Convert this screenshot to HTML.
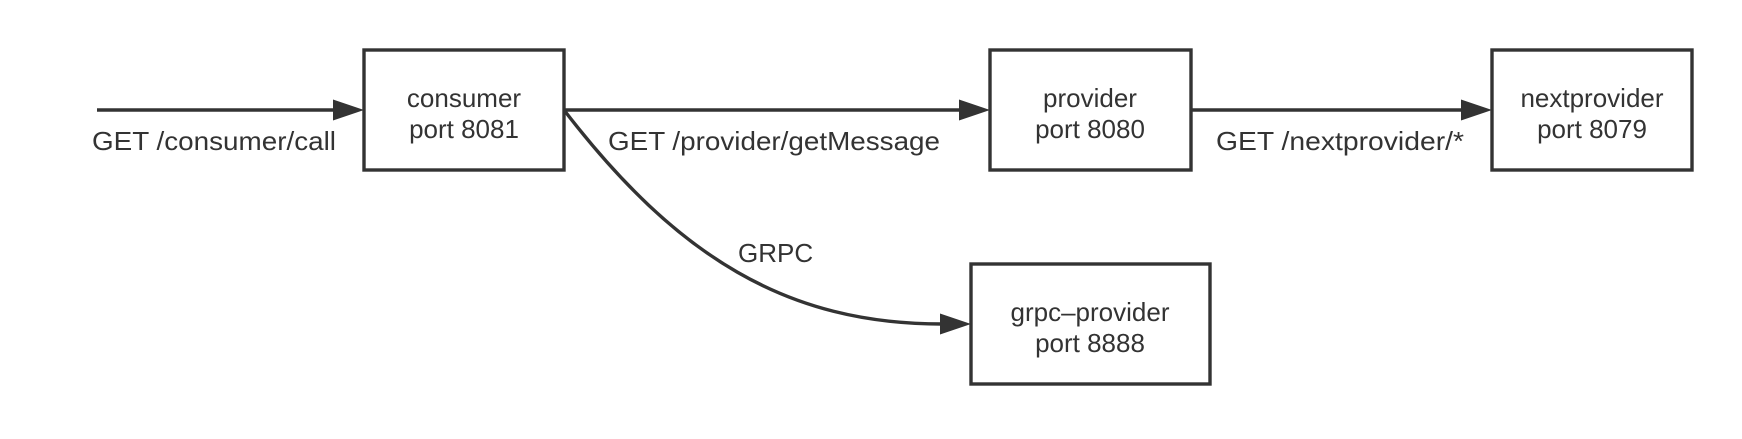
<!DOCTYPE html>
<html><head><style>
body{margin:0;background:#fff;}
svg text{font-family:"Liberation Sans",sans-serif;font-size:26px;fill:#333;}
</style></head><body>
<svg width="1742" height="434" xmlns="http://www.w3.org/2000/svg">
<g fill="#fff" stroke="#333" stroke-width="3.4">
<rect x="364" y="50" width="200" height="120"/>
<rect x="990" y="50" width="201" height="120"/>
<rect x="1492" y="50" width="200" height="120"/>
<rect x="971" y="264" width="239" height="120"/>
</g>
<g stroke="#333" stroke-width="3.4" fill="none">
<line x1="97" y1="110" x2="336" y2="110"/>
<line x1="564" y1="110" x2="962" y2="110"/>
<line x1="1191" y1="110" x2="1464" y2="110"/>
<path d="M564 110 C677 257 787 324 942 324"/>
</g>
<g fill="#333">
<polygon points="364,110 333,99.5 333,120.5"/>
<polygon points="990,110 959,99.5 959,120.5"/>
<polygon points="1492,110 1461,99.5 1461,120.5"/>
<polygon points="971,324 940,313.5 940,334.5"/>
</g>
<g text-anchor="middle">
<text x="464" y="107">consumer</text><text x="464" y="138">port 8081</text>
<text x="1090" y="107">provider</text><text x="1090" y="138">port 8080</text>
<text x="1592" y="107">nextprovider</text><text x="1592" y="138">port 8079</text>
<text x="1090" y="321">grpc–provider</text><text x="1090" y="352">port 8888</text>
</g>
<text x="92" y="150" textLength="244" lengthAdjust="spacingAndGlyphs">GET /consumer/call</text>
<text x="608" y="150" textLength="332" lengthAdjust="spacingAndGlyphs">GET /provider/getMessage</text>
<text x="1216" y="150" textLength="248" lengthAdjust="spacingAndGlyphs">GET /nextprovider/*</text>
<text x="738" y="262">GRPC</text>
</svg>
</body></html>
